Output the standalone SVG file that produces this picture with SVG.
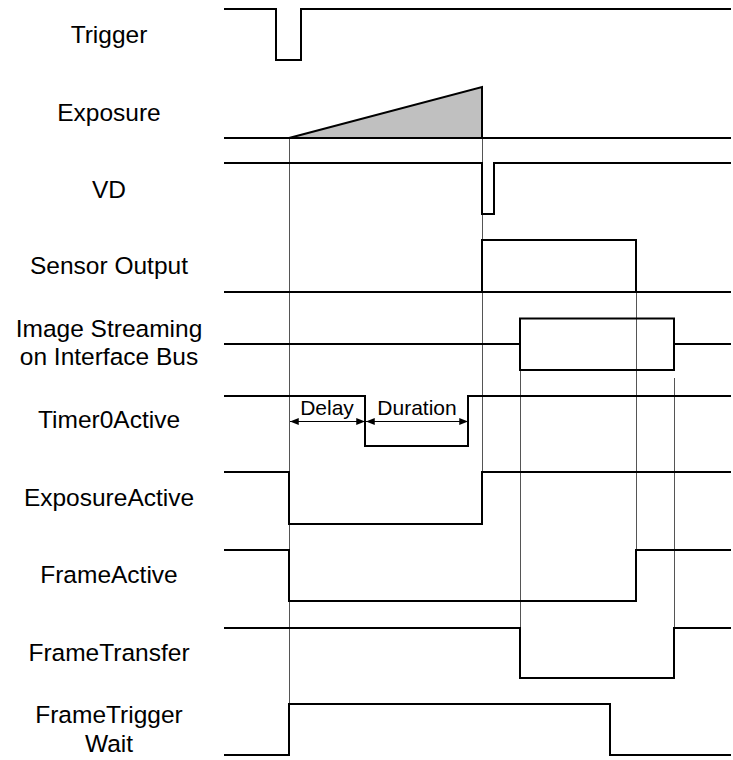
<svg xmlns="http://www.w3.org/2000/svg" width="733" height="760" viewBox="0 0 733 760">
<style>
.sig{fill:none;stroke:#000;stroke-width:2;stroke-linejoin:miter;stroke-linecap:square}
.guide{fill:none;stroke:#555;stroke-width:1}
.lbl{font-family:"Liberation Sans",Arial,sans-serif;font-size:24.5px;fill:#000;text-anchor:middle}
.sm{font-family:"Liberation Sans",Arial,sans-serif;font-size:21px;fill:#000;text-anchor:middle}
.dim{fill:none;stroke:#000;stroke-width:1;marker-start:url(#ah);marker-end:url(#ah)}
</style>
<defs>
<marker id="ah" viewBox="0 0 10 8" refX="10" refY="4" markerWidth="10" markerHeight="7" markerUnits="userSpaceOnUse" orient="auto-start-reverse">
<path d="M0,0 L10,4 L0,8 Z" fill="#000"/>
</marker>
</defs>
<rect width="733" height="760" fill="#fff"/>
<g id="connectors">
<path class="guide" d="M289.5,138 V755"/>
<path class="guide" d="M482.5,138 V472"/>
<path class="guide" d="M520.5,370 V628"/>
<path class="guide" d="M636.5,292 V550"/>
<path class="guide" d="M674.5,378 V628"/>
<path class="dim" d="M290,421.5 H365"/>
<path class="dim" d="M366,421.5 H468"/>
</g>
<g id="trigger">
<text class="lbl" x="109" y="43">Trigger</text>
<path class="sig" d="M225,9 H276 V60 H301 V9 H730"/>
</g>
<g id="exposure">
<text class="lbl" x="109" y="121">Exposure</text>
<polygon points="289,138 482,87 482,138" fill="#c0c0c0" stroke="#000" stroke-width="2" stroke-linejoin="miter"/>
<path class="sig" d="M225,138 H730"/>
</g>
<g id="vd">
<text class="lbl" x="109" y="198">VD</text>
<path class="sig" d="M225,163 H482 V214 H494 V163 H730"/>
</g>
<g id="sensor-output">
<text class="lbl" x="109" y="274">Sensor Output</text>
<path class="sig" d="M225,292 H730 M482,292 V240 H636 V292"/>
</g>
<g id="image-streaming">
<text class="lbl" x="109" y="337">Image Streaming</text>
<text class="lbl" x="109" y="365">on Interface Bus</text>
<path class="sig" d="M225,344 H520 M674,344 H730"/>
<rect class="sig" x="520" y="318.5" width="154" height="51.5"/>
</g>
<g id="timer0active">
<text class="lbl" x="109" y="428">Timer0Active</text>
<path class="sig" d="M225,396 H365 V446 H468 V396 H730"/>
<text class="sm" x="327" y="415">Delay</text>
<text class="sm" x="417" y="415">Duration</text>
</g>
<g id="exposureactive">
<text class="lbl" x="109" y="506">ExposureActive</text>
<path class="sig" d="M225,472 H289 V524 H482 V472 H730"/>
</g>
<g id="frameactive">
<text class="lbl" x="109" y="583">FrameActive</text>
<path class="sig" d="M225,550 H289 V601 H636 V550 H730"/>
</g>
<g id="frametransfer">
<text class="lbl" x="109" y="661">FrameTransfer</text>
<path class="sig" d="M225,628 H520 V678 H674 V628 H730"/>
</g>
<g id="frametriggerwait">
<text class="lbl" x="109" y="723">FrameTrigger</text>
<text class="lbl" x="109" y="752">Wait</text>
<path class="sig" d="M225,755 H289 V704 H610 V755 H730"/>
</g>
</svg>
